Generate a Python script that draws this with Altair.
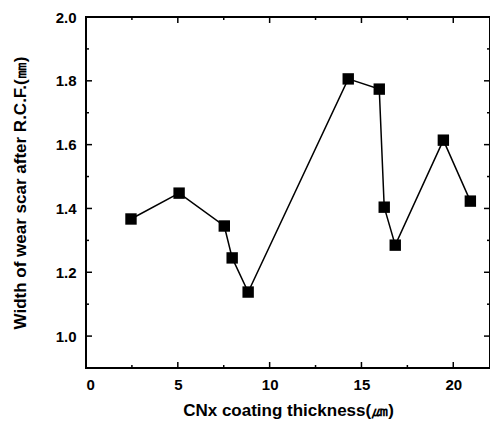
import altair as alt
import pandas as pd

thickness = [2.45, 5.07, 7.53, 7.96, 8.83, 14.28, 15.97, 16.24, 16.84, 19.46, 20.93]
scar_width = [1.367, 1.448, 1.345, 1.245, 1.138, 1.806, 1.774, 1.404, 1.285, 1.614, 1.423]
x_major = [0, 5, 10, 15, 20]
x_minor = [2.5, 7.5, 12.5, 17.5]
y_major = [1.0, 1.2, 1.4, 1.6, 1.8, 2.0]
y_minor = [1.1, 1.3, 1.5, 1.7, 1.9]

df = pd.DataFrame({"t": thickness, "w": scar_width})

FONT = "Liberation Sans"
W, H = 404, 351
MAJOR, MINOR = 6, 3
xscale = alt.Scale(domain=[0, 22.0], nice=False, zero=False)
yscale = alt.Scale(domain=[0.9, 2.0], nice=False, zero=False)

x_bottom = alt.Axis(orient="bottom", values=x_major, title="CNx coating thickness(㎛)",
                    grid=False, domain=False, ticks=False, tickSize=0,
                    labelExpr="datum.label",
                    labelFont=FONT, labelFontSize=15, labelFontWeight="bold", labelColor="black",
                    labelPadding=9, titleFont=FONT, titleFontSize=17, titleFontWeight="bold",
                    titleColor="black", titlePadding=10)
y_left = alt.Axis(orient="left", values=y_major, title="Width of wear scar after R.C.F.(㎜)",
                  grid=False, domain=False, ticks=False, tickSize=0,
                  labelExpr="format(datum.value, '.1f')",
                  labelFont=FONT, labelFontSize=15, labelFontWeight="bold", labelColor="black",
                  labelPadding=10, titleFont=FONT, titleFontSize=17, titleFontWeight="bold",
                  titleColor="black", titlePadding=26)

line = alt.Chart(df).mark_line(color="black", strokeWidth=1.5).encode(
    x=alt.X("t:Q", scale=xscale, axis=x_bottom),
    y=alt.Y("w:Q", scale=yscale, axis=y_left),
)
pts = alt.Chart(df).mark_point(shape="square", filled=True, color="black", size=130, opacity=1).encode(
    x=alt.X("t:Q", scale=xscale, axis=x_bottom),
    y=alt.Y("w:Q", scale=yscale, axis=y_left),
)

def x_ticks(vals, length, top):
    d = pd.DataFrame({"v": vals})
    y0, y1 = (0, length) if top else (H, H - length)
    return alt.Chart(d).mark_rule(color="black", strokeWidth=1.5).encode(
        x=alt.X("v:Q", scale=xscale, axis=x_bottom),
        y=alt.value(y0), y2=alt.value(y1),
    )

def y_ticks(vals, length, right):
    d = pd.DataFrame({"v": vals})
    x0, x1 = (W, W - length) if right else (0, length)
    return alt.Chart(d).mark_rule(color="black", strokeWidth=1.5).encode(
        y=alt.Y("v:Q", scale=yscale, axis=y_left),
        x=alt.value(x0), x2=alt.value(x1),
    )

tick_layers = [
    x_ticks(x_major, MAJOR, False), x_ticks(x_minor, MINOR, False),
    x_ticks(x_major, MAJOR, True), x_ticks(x_minor, MINOR, True),
    y_ticks(y_major, MAJOR, False), y_ticks(y_minor, MINOR, False),
    y_ticks(y_major, MAJOR, True), y_ticks(y_minor, MINOR, True),
]

chart = alt.layer(line, pts, *tick_layers).properties(
    width=W, height=H,
    background="white",
    autosize=alt.AutoSizeParams(type="none"),
    padding={"left": 78, "top": 9, "right": 0, "bottom": 57},
).configure_view(stroke="black", strokeWidth=2)

chart.save("out.html", embed_options={"renderer": "svg", "actions": False})
